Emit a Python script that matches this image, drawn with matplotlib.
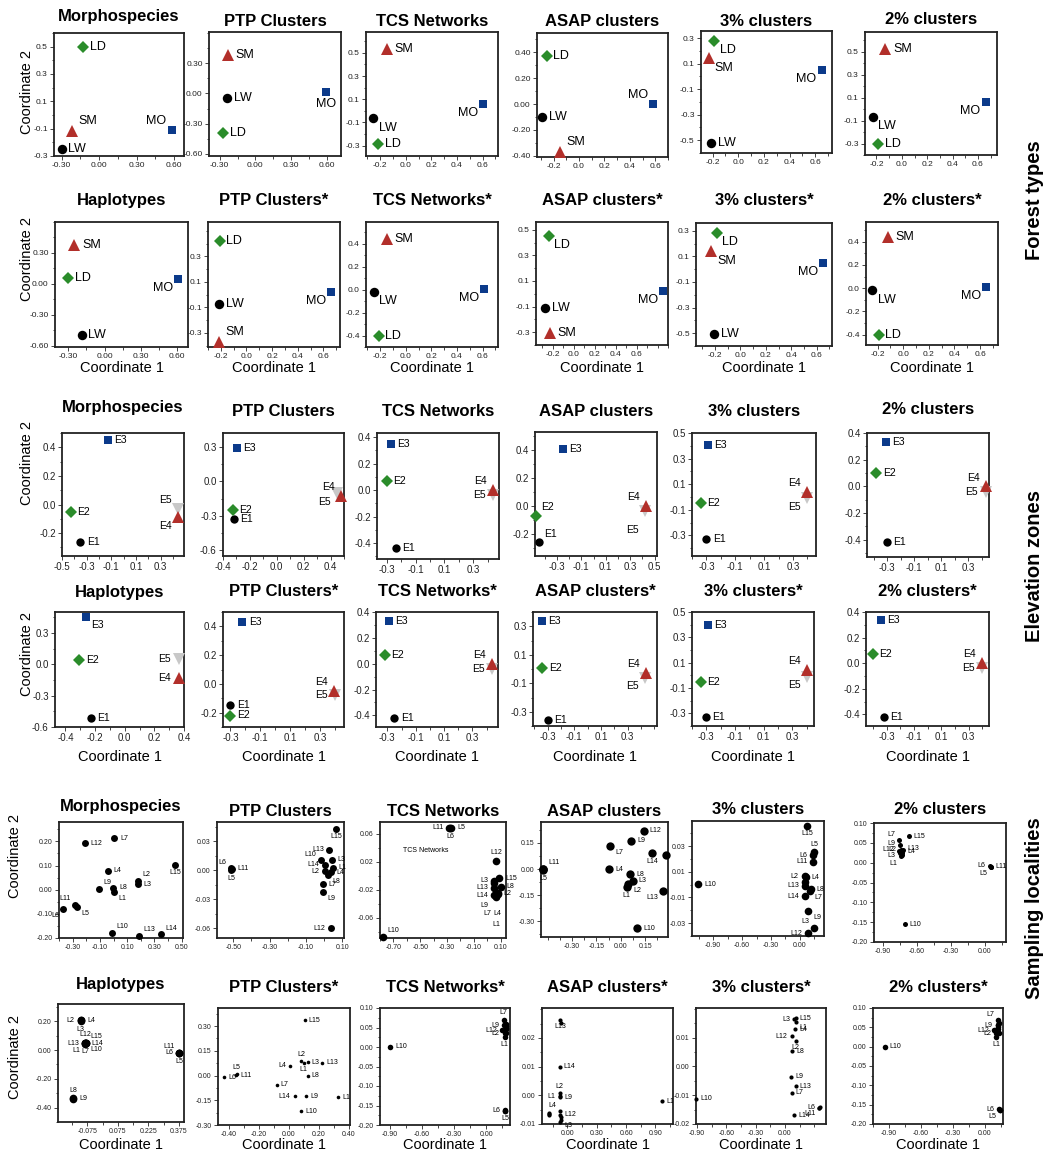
#!/usr/bin/env python3
"""PCoA panels: forest types, elevation zones and sampling localities"""

import matplotlib
matplotlib.use('Agg')
import matplotlib.pyplot as plt
from matplotlib.ticker import FixedLocator, AutoMinorLocator, FormatStrFormatter

plt.rcParams['font.family'] = ['Liberation Sans', 'DejaVu Sans']
plt.rcParams['axes.unicode_minus'] = False

W, H = 1047, 1155

# ---------------- data ----------------
titles_top = ['Morphospecies', 'PTP Clusters', 'TCS Networks', 'ASAP clusters', '3% clusters', '2% clusters']
titles_bot = ['Haplotypes', 'PTP Clusters*', 'TCS Networks*', 'ASAP clusters*', '3% clusters*', '2% clusters*']

forest_names = ['LW', 'LD', 'SM', 'MO']
forest1_x = [[-0.30, -0.126, -0.213, 0.58], [-0.24, -0.27, -0.23, 0.595], [-0.254, -0.215, -0.146, 0.606],
             [-0.29, -0.255, -0.15, 0.58], [-0.21, -0.185, -0.23, 0.65], [-0.23, -0.185, -0.13, 0.66]]
forest1_y = [[-0.25, 0.50, -0.118, -0.11], [-0.04, -0.39, 0.38, 0.01], [-0.066, -0.283, 0.53, 0.057],
             [-0.10, 0.37, -0.37, 0.0], [-0.52, 0.28, 0.145, 0.05], [-0.07, -0.30, 0.52, 0.06]]
forest2_x = [[-0.19, -0.30, -0.25, 0.61], [-0.215, -0.21, -0.215, 0.66], [-0.25, -0.21, -0.145, 0.61],
             [-0.27, -0.24, -0.23, 0.85], [-0.21, -0.185, -0.23, 0.65], [-0.24, -0.19, -0.12, 0.65]]
forest2_y = [[-0.49, 0.06, 0.38, 0.05], [-0.075, 0.42, -0.37, 0.02], [-0.02, -0.40, 0.44, 0.01],
             [-0.11, 0.45, -0.31, 0.02], [-0.51, 0.285, 0.14, 0.05], [-0.02, -0.40, 0.44, 0.01]]

elev_names = ['E1', 'E2', 'E3', 'E4', 'E5']
elev1_x = [[-0.35, -0.43, -0.13, 0.44, 0.44], [-0.32, -0.325, -0.295, 0.475, 0.445], [-0.24, -0.30, -0.27, 0.44, 0.44],
           [-0.45, -0.47, -0.25, 0.43, 0.42], [-0.30, -0.34, -0.29, 0.40, 0.40], [-0.30, -0.38, -0.31, 0.43, 0.43]]
elev1_y = [[-0.26, -0.055, 0.45, -0.09, -0.03], [-0.33, -0.25, 0.29, -0.13, -0.10], [-0.44, 0.07, 0.35, 0.0, -0.04],
           [-0.26, -0.07, 0.41, 0.0, -0.04], [-0.33, -0.05, 0.41, 0.04, -0.01], [-0.42, 0.10, 0.33, 0.0, -0.04]]
elev2_x = [[-0.23, -0.305, -0.26, 0.365, 0.365], [-0.30, -0.30, -0.22, 0.39, 0.40], [-0.25, -0.32, -0.29, 0.44, 0.44],
           [-0.30, -0.34, -0.34, 0.44, 0.43], [-0.30, -0.34, -0.29, 0.40, 0.40], [-0.32, -0.40, -0.34, 0.40, 0.40]]
elev2_y = [[-0.51, 0.04, 0.45, -0.13, 0.05], [-0.15, -0.22, 0.43, -0.05, -0.08], [-0.42, 0.07, 0.33, 0.0, -0.04],
           [-0.36, 0.01, 0.34, -0.03, -0.06], [-0.33, -0.05, 0.40, 0.04, -0.01], [-0.42, 0.07, 0.34, 0.0, -0.04]]

loc_names = ['L1', 'L2', 'L3', 'L4', 'L5', 'L6', 'L7', 'L8', 'L9', 'L10', 'L11', 'L12', 'L13', 'L14', 'L15']
loc1_x = [[0.0, 0.178, 0.178, -0.043, -0.266, -0.368, 0.006, -0.001, -0.104, -0.009, -0.283, -0.209, 0.19, 0.35, 0.451],
          [0.05, 0.004, 0.044, 0.04, -0.513, -0.515, -0.005, 0.022, -0.005, -0.019, -0.51, 0.037, 0.03, 0.004, 0.068],
          [0.066, 0.078, 0.054, 0.078, -0.27, -0.278, 0.066, 0.10, 0.054, -0.78, -0.285, 0.067, 0.054, 0.054, 0.091],
          [0.037, 0.047, 0.072, -0.07, -0.478, -0.476, -0.066, 0.058, 0.064, 0.10, -0.477, 0.14, 0.26, 0.191, 0.278],
          [0.05, 0.05, 0.145, 0.059, 0.145, 0.138, 0.10, 0.11, 0.086, -1.058, 0.138, 0.086, 0.05, 0.05, 0.076],
          [-0.745, -0.745, -0.75, -0.73, 0.05, 0.045, -0.756, -0.735, -0.75, -0.706, 0.055, -0.76, -0.725, -0.735, -0.671]]
loc1_y = [[-0.01, 0.037, 0.022, 0.078, -0.073, -0.08, 0.213, 0.008, 0.003, -0.18, -0.063, 0.192, -0.19, -0.185, 0.102],
          [0.0028, -0.0007, 0.011, -0.0018, 0.0, 0.002, -0.0145, -0.0052, -0.0224, 0.0103, 0.0015, -0.0597, 0.0214, 0.006, 0.043],
          [-0.030, -0.025, -0.0069, -0.026, 0.069, 0.068, -0.029, -0.0154, -0.027, -0.087, 0.069, 0.021, -0.0106, -0.0177, -0.0035],
          [-0.102, -0.083, -0.067, 0.0, -0.005, 0.002, 0.134, -0.031, 0.161, -0.34, 0.0, 0.221, -0.125, 0.094, 0.08],
          [0.002, 0.0065, -0.034, 0.0057, 0.025, 0.023, -0.005, -0.0035, -0.0203, 0.0003, 0.0178, -0.038, -0.0008, -0.009, 0.0458],
          [0.017, 0.033, 0.025, 0.028, -0.012, -0.008, 0.056, 0.02, 0.044, -0.155, -0.01, 0.03, 0.032, 0.024, 0.067]]
loc2_x = [[-0.085, -0.109, -0.109, -0.105, 0.375, 0.375, -0.085, -0.145, -0.145, -0.083, 0.375, -0.085, -0.087, -0.084, -0.083],
          [0.10, 0.085, 0.129, 0.011, -0.345, -0.427, -0.078, 0.129, 0.118, 0.085, -0.35, 0.33, 0.225, 0.04, 0.107],
          [0.17, 0.17, 0.175, 0.18, 0.174, 0.17, 0.16, 0.18, 0.165, -0.893, 0.176, 0.145, 0.18, 0.185, 0.182],
          [-0.079, -0.079, -0.07, -0.079, -0.19, -0.19, -0.07, -0.075, -0.072, 0.97, -0.19, -0.072, -0.072, -0.079, -0.07],
          [0.11, 0.11, 0.095, 0.102, 0.355, 0.35, 0.068, 0.075, 0.061, -0.905, 0.352, 0.068, 0.11, 0.09, 0.11],
          [0.105, 0.105, 0.11, 0.12, 0.14, 0.135, 0.125, 0.12, 0.12, -0.94, 0.14, 0.09, 0.125, 0.13, 0.128]]
loc2_y = [[0.045, 0.206, 0.203, 0.208, -0.02, -0.019, 0.048, -0.335, -0.338, 0.046, -0.018, 0.05, 0.047, 0.047, 0.049],
          [0.079, 0.089, 0.081, 0.059, 0.011, -0.009, -0.056, 0.0, -0.127, -0.217, 0.003, -0.133, 0.079, -0.127, 0.337],
          [0.026, 0.035, 0.04, 0.05, -0.165, -0.162, 0.069, 0.045, 0.056, 0.0, -0.163, 0.043, 0.055, 0.035, 0.06],
          [-0.0003, 0.0007, -0.0085, -0.0056, -0.0068, -0.0063, -0.0075, -0.0092, -0.0007, -0.002, -0.0065, -0.0067, 0.0262, 0.0100, 0.0252],
          [0.0155, 0.0089, 0.0164, 0.0130, -0.0141, -0.0143, -0.0092, 0.0052, -0.0036, -0.0113, -0.0145, 0.0104, -0.0069, -0.017, 0.0168],
          [0.026, 0.035, 0.04, 0.05, -0.165, -0.162, 0.069, 0.045, 0.056, 0.0, -0.163, 0.043, 0.055, 0.035, 0.06]]

# axis limits and tick values per panel
forest1_xlim = [(-0.36, 0.68), (-0.39, 0.72), (-0.31, 0.72), (-0.33, 0.70), (-0.29, 0.73), (-0.29, 0.75)]
forest1_ylim = [(-0.30, 0.60), (-0.62, 0.61), (-0.39, 0.68), (-0.41, 0.55), (-0.60, 0.355), (-0.40, 0.67)]
forest1_xticks = [[-0.3, 0, 0.3, 0.6]] * 2 + [[-0.2, 0, 0.2, 0.4, 0.6]] * 4
forest1_yticks = [[-0.3, -0.1, 0.1, 0.3, 0.5], [-0.6, -0.3, 0, 0.3], [-0.3, -0.1, 0.1, 0.3, 0.5],
                  [-0.4, -0.2, 0, 0.2, 0.4], [-0.5, -0.3, -0.1, 0.1, 0.3], [-0.3, -0.1, 0.1, 0.3, 0.5]]
forest2_xlim = [(-0.41, 0.69), (-0.30, 0.73), (-0.31, 0.72), (-0.36, 0.90), (-0.35, 0.72), (-0.29, 0.74)]
forest2_ylim = [(-0.61, 0.60), (-0.41, 0.57), (-0.50, 0.59), (-0.40, 0.56), (-0.60, 0.36), (-0.49, 0.57)]
forest2_xticks = [[-0.3, 0, 0.3, 0.6]] + [[-0.2, 0, 0.2, 0.4, 0.6]] * 5
forest2_yticks = [[-0.6, -0.3, 0, 0.3], [-0.3, -0.1, 0.1, 0.3], [-0.4, -0.2, 0, 0.2, 0.4],
                  [-0.3, -0.1, 0.1, 0.3, 0.5], [-0.5, -0.3, -0.1, 0.1, 0.3], [-0.4, -0.2, 0, 0.2, 0.4]]

elev1_xlim = [(-0.50, 0.49), (-0.40, 0.50), (-0.37, 0.48), (-0.48, 0.52), (-0.40, 0.46), (-0.45, 0.455)]
elev1_ylim = [(-0.36, 0.50), (-0.65, 0.42), (-0.52, 0.43), (-0.36, 0.53), (-0.46, 0.50), (-0.53, 0.40)]
elev1_xticks = [[-0.5, -0.3, -0.1, 0.1, 0.3], [-0.4, -0.2, 0, 0.2, 0.4], [-0.3, -0.1, 0.1, 0.3],
                [-0.3, -0.1, 0.1, 0.3, 0.5], [-0.3, -0.1, 0.1, 0.3], [-0.3, -0.1, 0.1, 0.3]]
elev1_yticks = [[-0.2, 0, 0.2, 0.4], [-0.6, -0.3, 0, 0.3], [-0.4, -0.2, 0, 0.2, 0.4],
                [-0.2, 0, 0.2, 0.4], [-0.3, -0.1, 0.1, 0.3, 0.5], [-0.4, -0.2, 0, 0.2, 0.4]]
elev2_xlim = [(-0.47, 0.40), (-0.35, 0.46), (-0.38, 0.48), (-0.41, 0.52), (-0.40, 0.45), (-0.45, 0.45)]
elev2_ylim = [(-0.60, 0.50), (-0.30, 0.50), (-0.49, 0.40), (-0.40, 0.40), (-0.40, 0.50), (-0.49, 0.40)]
elev2_xticks = [[-0.4, -0.2, 0, 0.2, 0.4]] + [[-0.3, -0.1, 0.1, 0.3]] * 5
elev2_yticks = [[-0.6, -0.3, 0, 0.3], [-0.2, 0, 0.2, 0.4], [-0.4, -0.2, 0, 0.2, 0.4],
                [-0.3, -0.1, 0.1, 0.3], [-0.3, -0.1, 0.1, 0.3, 0.5], [-0.4, -0.2, 0, 0.2, 0.4]]

loc1_xlim = [(-0.40, 0.51), (-0.59, 0.11), (-0.80, 0.14), (-0.49, 0.29), (-1.12, 0.25), (-0.98, 0.185)]
loc1_ylim = [(-0.20, 0.28), (-0.070, 0.050), (-0.089, 0.077), (-0.39, 0.27), (-0.040, 0.0495), (-0.20, 0.10)]
loc1_xticks = [[-0.3, -0.1, 0.1, 0.3, 0.5], [-0.5, -0.3, -0.1, 0.1], [-0.7, -0.5, -0.3, -0.1, 0.1],
               [-0.3, -0.15, 0, 0.15], [-0.9, -0.6, -0.3, 0], [-0.9, -0.6, -0.3, 0]]
loc1_yticks = [[-0.2, -0.1, 0, 0.1, 0.2], [-0.06, -0.03, 0, 0.03], [-0.06, -0.02, 0.02, 0.06],
               [-0.3, -0.15, 0, 0.15], [-0.03, -0.01, 0.01, 0.03], [-0.2, -0.15, -0.1, -0.05, 0, 0.05, 0.1]]
loc2_xlim = [(-0.22, 0.40), (-0.47, 0.41), (-0.99, 0.22), (-0.26, 1.08), (-0.91, 0.42), (-1.05, 0.17)]
loc2_ylim = [(-0.50, 0.32), (-0.30, 0.41), (-0.20, 0.10), (-0.010, 0.0304), (-0.020, 0.0203), (-0.20, 0.10)]
loc2_xticks = [[-0.075, 0.075, 0.225, 0.375], [-0.4, -0.2, 0, 0.2, 0.4], [-0.9, -0.6, -0.3, 0],
               [0, 0.3, 0.6, 0.9], [-0.9, -0.6, -0.3, 0], [-0.9, -0.6, -0.3, 0]]
loc2_yticks = [[-0.4, -0.2, 0, 0.2], [-0.3, -0.15, 0, 0.15, 0.3], [-0.2, -0.15, -0.1, -0.05, 0, 0.05, 0.1],
               [-0.01, 0, 0.01, 0.02], [-0.02, -0.01, 0, 0.01], [-0.2, -0.15, -0.1, -0.05, 0, 0.05, 0.1]]

# ---------------- layout / style ----------------
# panel boxes in pixels: (left, right, top, bottom)
boxes = [
    [(54, 184, 33, 156), (209, 341, 32, 156), (366, 498, 32, 156), (537, 668, 33, 157), (701, 832, 31, 153), (865, 997, 32, 155)],
    [(55, 188, 222, 347), (208, 340, 222, 347), (366, 498, 222, 347), (536, 668, 222, 345), (696, 832, 223, 346), (866, 998, 222, 345)],
    [(62, 184, 433, 556), (223, 344, 433, 556), (377, 499, 433, 559), (535, 657, 432, 556), (692, 816, 433, 556), (867, 989, 433, 557)],
    [(55, 184, 612, 727), (223, 344, 612, 727), (376, 498, 612, 727), (533, 657, 612, 726), (692, 814, 612, 726), (866, 989, 612, 726)],
    [(59, 183, 822, 938), (217, 344, 822, 938), (380, 506, 822, 938), (541, 668, 822, 937), (692, 824, 821, 936), (874, 1006, 823, 942)],
    [(58, 184, 1004, 1122), (218, 350, 1008, 1125), (380, 510, 1008, 1125), (542, 673, 1008, 1124), (696, 826, 1008, 1124), (873, 1003, 1008, 1124)],
]
title_y = [[17, 21, 21, 21, 21, 20], [201] * 6, [407, 411, 411, 411, 411, 410],
           [592] * 6, [807, 811, 811, 811, 810, 810], [985, 987, 987, 987, 987, 987]]

forest_marks = [('o', 'black', 6.8), ('D', '#2a8c2a', 6.6), ('^', '#b22f2a', 8), ('s', '#0b3a8a', 6.2)]
elev_marks = [('o', 'black', 6), ('D', '#2a8c2a', 6.2), ('s', '#0b3a8a', 6), ('^', '#b22f2a', 8), ('v', '#c8c8c8', 8)]
loc1_ms = [5, 5, 5.5, 6, 5.5, 3.6]
loc2_ms = [5.5, 2.6, 4, 3, 3, 4]

# label placement: code or (code, extra vertical shift in points)
forest1_pos = [['r', 'r', 'ur', 'ul'], ['r', 'r', 'r', 'd'], ['dr', 'r', 'r', 'dl'],
               ['r', 'r', 'ur', 'ul'], ['r', 'dr', 'dr', 'dl'], ['dr', 'r', 'r', 'dl']]
forest2_pos = [['r', 'r', 'r', 'dl'], ['r', 'r', 'ur', 'dl'], ['dr', 'r', 'r', 'dl'],
               ['r', 'dr', 'r', 'dl'], ['r', 'dr', 'dr', 'dl'], ['dr', 'r', 'r', 'dl']]
elev1_pos = [['r', 'r', 'r', 'dl', 'ul'], ['r', 'r', 'r', 'ul', 'dl'], ['r', 'r', 'r', 'ul', 'l'],
             ['ur', 'ur', 'r', 'ul', 'dl2'], ['r', 'r', 'r', 'ul', 'dl'], ['r', 'r', 'r', 'ul', 'l']]
elev2_pos = [['r', 'r', 'dr', 'l', 'l'], ['r', 'r', 'r', 'ul', 'l'], ['r', 'r', 'r', 'ul', 'l'],
             ['r', 'r', 'r', 'ul', 'dl'], ['r', 'r', 'r', 'ul', 'dl'], ['r', 'r', 'r', 'ul', 'l']]
loc1_pos = [['dr', 'ur', 'r', 'r', 'dr', 'dl', 'r', 'r', 'ur', 'ur', 'ul', 'r', 'ur', 'ur', 'd'],
            ['r', 'l', 'r', 'r', 'd', 'ul', 'r', 'dr', 'dr', 'ul', 'r', 'l', 'l', 'l', 'd'],
            [('d', -14), 'r', 'l', ('d', -8), 'r', 'd', ('dl', -8), 'r', ('l', -8), 'ur', 'l', 'u',
             ('l', -3), ('l', -5), 'r'],
            ['d', 'dr', 'r', 'r', 'd', '', 'dr', 'r', 'r', 'r', 'ur', 'r', 'dl', 'd', ''],
            ['', 'l', 'ul', 'r', 'u', 'l', 'dr', 'r', 'dr', 'r', 'l', 'l', 'l', 'l', 'd'],
            [('dl', -1), 'l', ('l', -2), 'r', 'dl', 'l', 'ul', '', ('l', 1), 'r', 'r', ('l', 1), ('r', 1), '', 'r']]
loc2_pos = [['dl', 'l', 'd', 'r', 'd', 'l', 'd', 'u', 'r', 'dr', 'ul', 'u', 'l', 'r', 'ur'],
            ['d', 'u', 'r', 'l', 'u', 'r', 'r', 'r', 'r', 'r', 'r', 'rc', 'r', 'l', 'r'],
            ['d', 'l', '', '', 'd', 'l', 'u', '', 'l', 'r', '', 'l', '', '', ''],
            ['l', 'u', 'dr', 'ul', '', '', '', '', 'r', 'rc', '', 'r', 'd', 'r', ''],
            ['dr', 'd', 'l', 'r', '', 'l', 'r', 'r', 'r', 'r', 'dl', 'l', 'r', 'r', 'r'],
            ['d', 'l', '', '', 'dl', 'l', 'ul', '', 'l', 'r', '', 'l', '', '', '']]

OFFS = {'r': (1, 0, 'left', 'center'), 'l': (-1, 0, 'right', 'center'),
        'u': (0, 0.8, 'center', 'bottom'), 'd': (0, -0.8, 'center', 'top'),
        'ur': (0.8, 0.5, 'left', 'bottom'), 'ul': (-0.8, 0.5, 'right', 'bottom'),
        'dr': (0.8, -0.5, 'left', 'top'), 'dl': (-0.8, -0.5, 'right', 'top'),
        'dl2': (-0.8, -1.8, 'right', 'top')}


def add_panel(fig, box, title, ty, xs, ys, names, marks, ms_over, pos, xlim, ylim,
              xticks, yticks, xfmt, yfmt, tick_fs, lab_fs, order):
    l, r, t, b = box
    ax = fig.add_axes([l / W, 1 - b / H, (r - l) / W, (b - t) / H])
    for j in order:
        m, c, ms = marks[j]
        if ms_over is not None:
            ms = ms_over
        ax.plot(xs[j], ys[j], marker=m, color=c, ms=ms, ls='none', mew=0, clip_on=False, zorder=3)
    for j in range(len(names)):
        code = pos[j]
        if not code:
            continue
        extra = 0
        if isinstance(code, tuple):
            code, extra = code
        clip = code.endswith('c')
        code = code.rstrip('c')
        ms = ms_over if ms_over is not None else marks[j][2]
        gap = ms / 2 + 1.5
        dx, dy, ha, va = OFFS[code]
        ax.annotate(names[j], (xs[j], ys[j]), xytext=(dx * gap, dy * gap + extra),
                    textcoords='offset points', ha=ha, va=va, fontsize=lab_fs,
                    clip_on=clip, zorder=4)
    ax.set_xlim(*xlim)
    ax.set_ylim(*ylim)
    ax.xaxis.set_major_locator(FixedLocator(xticks))
    ax.yaxis.set_major_locator(FixedLocator(yticks))
    ax.xaxis.set_major_formatter(FormatStrFormatter(xfmt))
    ax.yaxis.set_major_formatter(FormatStrFormatter(yfmt))
    ax.xaxis.set_minor_locator(AutoMinorLocator(2))
    ax.yaxis.set_minor_locator(AutoMinorLocator(2))
    for s in ax.spines.values():
        s.set_linewidth(1.3)
        s.set_color('#222222')
    ax.tick_params(which='both', direction='out', color='#444444', width=0.7, labelsize=tick_fs,
                   pad=1.5, labelcolor='#222222')
    ax.tick_params(which='major', length=3)
    ax.tick_params(which='minor', length=1.8)
    fig.text((l + r) / 2 / W, 1 - ty / H, title, ha='center', va='center',
             fontsize=12, fontweight='bold')
    return ax


def draw_row(fig, row, titles, xs, ys, names, marks, ms_list, pos, xlims, ylims,
             xticks, yticks, xfmts, yfmts, tick_fs, lab_fs, order):
    axes = []
    for i in range(6):
        ms_over = ms_list[i] if ms_list is not None else None
        ax = add_panel(fig, boxes[row][i], titles[i], title_y[row][i], xs[i], ys[i], names,
                       marks, ms_over, pos[i], xlims[i], ylims[i], xticks[i], yticks[i],
                       xfmts[i], yfmts[i], tick_fs, lab_fs, order)
        axes.append(ax)
    return axes


def main():
    fig = plt.figure(figsize=(W / 100, H / 100), dpi=100)
    fig.patch.set_facecolor('white')

    f4 = [0, 1, 2, 3]
    e5 = [0, 1, 2, 4, 3]
    l15 = list(range(15))
    loc_marks = [('o', 'black', 5)] * 15

    draw_row(fig, 0, titles_top, forest1_x, forest1_y, forest_names, forest_marks, None, forest1_pos,
             forest1_xlim, forest1_ylim, forest1_xticks, forest1_yticks,
             ['%.2f', '%.2f', '%.1f', '%.1f', '%.1f', '%.1f'],
             ['%.1f', '%.2f', '%.1f', '%.2f', '%.1f', '%.1f'], 6, 9, f4)
    draw_row(fig, 1, titles_bot, forest2_x, forest2_y, forest_names, forest_marks, None, forest2_pos,
             forest2_xlim, forest2_ylim, forest2_xticks, forest2_yticks,
             ['%.2f', '%.1f', '%.1f', '%.1f', '%.1f', '%.1f'],
             ['%.2f', '%.1f', '%.1f', '%.1f', '%.1f', '%.1f'], 6, 9, f4)
    draw_row(fig, 2, titles_top, elev1_x, elev1_y, elev_names, elev_marks, None, elev1_pos,
             elev1_xlim, elev1_ylim, elev1_xticks, elev1_yticks,
             ['%.1f'] * 6, ['%.1f'] * 6, 7, 7.5, e5)
    draw_row(fig, 3, titles_bot, elev2_x, elev2_y, elev_names, elev_marks, None, elev2_pos,
             elev2_xlim, elev2_ylim, elev2_xticks, elev2_yticks,
             ['%.1f'] * 6, ['%.1f'] * 6, 7, 7.5, e5)
    row5 = draw_row(fig, 4, titles_top, loc1_x, loc1_y, loc_names, loc_marks, loc1_ms, loc1_pos,
                    loc1_xlim, loc1_ylim, loc1_xticks, loc1_yticks,
                    ['%.2f'] * 6, ['%.2f'] * 6, 5, 5, l15)
    draw_row(fig, 5, titles_bot, loc2_x, loc2_y, loc_names, loc_marks, loc2_ms, loc2_pos,
             loc2_xlim, loc2_ylim, loc2_xticks, loc2_yticks,
             ['%.3f', '%.2f', '%.2f', '%.2f', '%.2f', '%.2f'], ['%.2f'] * 6, 5, 5, l15)

    # small caption inside the TCS panel
    row5[2].text(0.36, 0.75, 'TCS Networks', transform=row5[2].transAxes, fontsize=5,
                 ha='center', va='center')

    # axis titles
    for x, y in [(27, 92), (27, 259), (27, 463), (27, 654), (15, 856), (15, 1057)]:
        fig.text(x / W, 1 - y / H, 'Coordinate 2', rotation=90, ha='center', va='center', fontsize=10.5)
    for row, y in [(1, 368), (3, 757), (5, 1145)]:
        for (l, r, t, b) in boxes[row]:
            fig.text((l + r) / 2 / W, 1 - y / H, 'Coordinate 1', ha='center', va='center', fontsize=10.5)

    # group labels on the right
    for y, txt in [(200, 'Forest types'), (566, 'Elevation zones'), (908, 'Sampling localities')]:
        fig.text(1035 / W, 1 - y / H, txt, rotation=90, ha='center', va='center',
                 fontsize=14.5, fontweight='bold')

    fig.savefig('out.png', dpi=100, facecolor='white')


if __name__ == "__main__":
    main()
